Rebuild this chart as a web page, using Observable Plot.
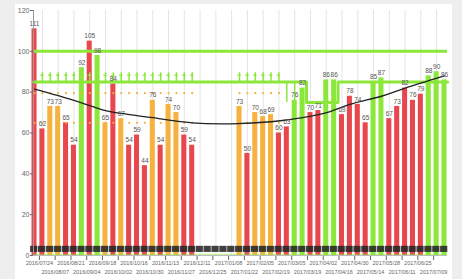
<!DOCTYPE html>
<html><head><meta charset="utf-8">
<script src="https://cdn.jsdelivr.net/npm/d3@7"></script>
<script src="https://cdn.jsdelivr.net/npm/@observablehq/plot@0.6"></script>
<style>
html,body{margin:0;padding:0;background:#eeeeee;width:462px;height:279px;overflow:hidden;font-family:"Liberation Sans",Arial,sans-serif;}
#chart{position:absolute;left:15px;top:4px;width:437px;height:275px;background:#fff;}
</style></head><body><div id="chart"></div>
<script>
// Weekly values (index 0 = week of 2016/07/17)
const values = [111,62,73,73,65,54,92,105,98,65,84,67,54,59,44,76,54,74,70,59,54,null,null,null,null,null,73,50,70,68,69,60,63,76,82,70,71,86,86,69,78,74,65,85,87,67,73,82,76,79,88,90,86];
const status = ["r","r","o","o","r","r","g","r","g","o","r","o","r","r","r","o","r","o","o","r","r",null,null,null,null,null,"o","r","o","o","o","r","r","g","g","r","r","g","g","r","r","r","r","g","g","r","r","r","r","r","g","g","g"];
const tickLabels = ["2016/07/24","2016/08/07","2016/08/21","2016/09/04","2016/09/18","2016/10/02","2016/10/16","2016/10/30","2016/11/13","2016/11/27","2016/12/11","2016/12/25","2017/01/08","2017/01/22","2017/02/05","2017/02/19","2017/03/05","2017/03/19","2017/04/02","2017/04/16","2017/04/30","2017/05/14","2017/05/28","2017/06/11","2017/06/25","2017/07/09"];
const tickIndex = [1,3,5,7,9,11,13,15,17,19,21,23,25,27,29,31,33,35,37,39,41,43,45,47,49,51];
// trend curve
const trendIdx = [0,5,8.5,11,15,20,25,30,34,37.5,40,44,47,52];
const trendVal = [81.5,76,71.5,69.6,67.5,65,64.5,65.5,67.5,70.5,74,78,82,88];
// green target lines
const topTarget = 100;
const targetIdx = [-0.13,34.5,34.5,38.5,38.5,52.4];
const targetVal = [85,85,75,75,85,85];
const upTickIdx = [1,2,3,4,5,7,9,10,11,12,13,14,15,16,17,18,19,20,26,27,28,29,30,31];
const upTickTop = 89.5;
const downTickIdx = [32,33];
const downTickBottom = 75;
// orange dotted reference rows
const dotIdx = [0,1,2,3,4,5,6,7,8,9,10,11,12,13,14,15,16,17,18,19,20,26,27,28,29,30,31];
const dotUpper = 79.5, dotLower = 65;

const X0 = -0.13, X1 = 52.38;
const bars = values.map((v,i)=>({i, v, s: status[i]})).filter(d=>d.v!=null);
const weeks = values.map((v,i)=>i);
const trend = trendIdx.map((x,k)=>({x, y: trendVal[k]}));
const target = targetIdx.map((x,k)=>({x, y: targetVal[k]}));
const green = "#8be83a", red = "#e8474d", orange = "#f6b13f";

const chart = Plot.plot({
  width: 437, height: 275,
  marginLeft: 18, marginRight: 5, marginTop: 6, marginBottom: 24,
  style: {background: "#fff", fontFamily: "Liberation Sans, Arial, sans-serif"},
  x: {type: "linear", domain: [X0, X1], axis: null},
  y: {domain: [0, 120], axis: null},
  color: {domain: ["r","o","g"], range: [red, orange, green]},
  marks: [
    Plot.ruleX(tickIndex, {y1: 0, y2: 120, stroke: "#e4e4e4", strokeWidth: 1}),
    Plot.rectY(bars, {x1: d=>d.i-0.32, x2: d=>d.i+0.32, y: "v", fill: "s"}),
    Plot.ruleY([topTarget], {x1: X0, x2: X1, stroke: green, strokeWidth: 3}),
    Plot.line(target, {x: "x", y: "y", stroke: green, strokeWidth: 3}),
    Plot.ruleX(upTickIdx, {y1: 85, y2: upTickTop, stroke: green, strokeWidth: 1.5}),
    Plot.ruleY(upTickIdx, {x1: d=>d-0.22, x2: d=>d+0.22, y: upTickTop-1.2, stroke: green, strokeWidth: 1.2}),
    Plot.ruleX(downTickIdx, {y1: 85, y2: downTickBottom, stroke: green, strokeWidth: 1.5}),
    Plot.dot(dotIdx, {x: d=>d, y: dotUpper, r: 1.1, fill: orange, stroke: null}),
    Plot.dot(dotIdx, {x: d=>d, y: dotLower, r: 1.1, fill: orange, stroke: null}),
    Plot.line(trend, {x: "x", y: "y", curve: "natural", stroke: "#222", strokeWidth: 1.3}),
    Plot.text(bars, {x: "i", y: "v", text: d=>String(d.v), dy: -5, fontSize: 6.5, fill: "#555"}),
    Plot.rectY(weeks, {x1: d=>d-0.5, x2: d=>d+0.42, y1: 1.5, y2: 4.5, fill: "#262626", fillOpacity: 0.88}),
    Plot.ruleY([0.6], {x1: X0, x2: X1, stroke: green, strokeWidth: 1, strokeOpacity: 0.6}),
    // y axis
    Plot.ruleX([X0], {y1: 0, y2: 120, stroke: "#999"}),
    Plot.axisY({ticks: [0,20,40,60,80,100,120], tickSize: 3, tickPadding: 1, fontSize: 7, color: "#666", anchor: "left"}),
    // x axis (two alternating rows)
    Plot.axisX({ticks: tickIndex.filter((d,k)=>k%2===0), tickFormat: d=>tickLabels[(d-1)/2], tickSize: 5, tickPadding: 1, fontSize: 5.5, color: "#666", dx: -3}),
    Plot.axisX({ticks: tickIndex.filter((d,k)=>k%2===1), tickFormat: d=>tickLabels[(d-1)/2], tickSize: 5, tickPadding: 10, fontSize: 5.5, color: "#666", dx: -3}),
    Plot.ruleY([0], {x1: X0, x2: X1, stroke: "#bbb"})
  ]
});
document.getElementById("chart").appendChild(chart);
</script></body></html>
